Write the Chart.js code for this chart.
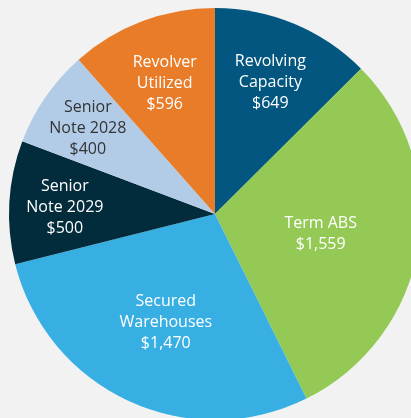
<!DOCTYPE html>
<html>
<head>
<meta charset="utf-8">
<script src="https://cdn.jsdelivr.net/npm/chart.js@4"></script>
<style>
    html, body { margin: 0; padding: 0; background: #f2f2f2; overflow: hidden; width: 411px; height: 418px; }
    #wrap { position: absolute; left: 0; top: 0; width: 430px; height: 428px; }
</style>
</head>
<body>
<div id="wrap"><canvas id="debtChart" width="430" height="428"></canvas></div>
<script>
// data ($ millions)
const categories = ['Revolving Capacity', 'Term ABS', 'Secured Warehouses', 'Senior Note 2029', 'Senior Note 2028', 'Revolver Utilized'];
const amounts = [649, 1559, 1470, 500, 400, 596];
const labelLines = [['Revolving', 'Capacity'], ['Term ABS'], ['Secured', 'Warehouses'], ['Senior', 'Note 2029'], ['Senior', 'Note 2028'], ['Revolver', 'Utilized']];

const sliceColors = ['#02567f', '#95c955', '#38afe3', '#022b3b', '#b2cce8', '#e97c28'];
const textColors = ['#ffffff', '#ffffff', '#ffffff', '#ffffff', '#333333', '#ffffff'];
// how far out (fraction of radius) each label sits
const labelRadius = [0.70, 0.52, 0.57, 0.73, 0.75, 0.69];

const sliceLabels = {
    id: 'sliceLabels',
    afterDatasetsDraw(chart) {
        const ctx = chart.ctx;
        const meta = chart.getDatasetMeta(0);
        ctx.save();
        ctx.font = '500 16px "Open Sans"';
        ctx.textAlign = 'center';
        ctx.textBaseline = 'middle';
        meta.data.forEach(function(arc, i) {
            const mid = (arc.startAngle + arc.endAngle) / 2;
            const r = arc.outerRadius * labelRadius[i];
            const x = arc.x + Math.cos(mid) * r;
            const y = arc.y + Math.sin(mid) * r + 2;
            const lines = labelLines[i].concat(['$' + amounts[i].toLocaleString('en-US')]);
            const lh = 21;
            const top = y - (lines.length - 1) * lh / 2;
            ctx.fillStyle = textColors[i];
            lines.forEach(function(t, k) {
                ctx.fillText(t, x, top + k * lh);
            });
        });
        ctx.restore();
    }
};

document.addEventListener('DOMContentLoaded', function() {
    const ctx = document.getElementById('debtChart').getContext('2d');
    new Chart(ctx, {
        type: 'pie',
        data: {
            labels: categories,
            datasets: [{
                data: amounts,
                backgroundColor: sliceColors,
                borderWidth: 0
            }]
        },
        options: {
            responsive: false,
            animation: false,
            layout: { padding: 8 },
            plugins: {
                legend: { display: false },
                tooltip: { enabled: false }
            }
        },
        plugins: [sliceLabels]
    });
});
</script>
</body>
</html>
